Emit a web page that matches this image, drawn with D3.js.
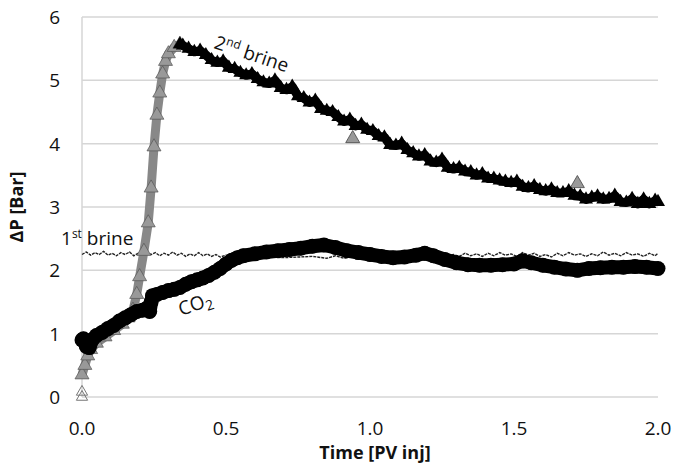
<!DOCTYPE html>
<html>
<head>
<meta charset="utf-8">
<script src="https://cdn.jsdelivr.net/npm/d3@7"></script>
<style>
  body { margin: 0; background: #fff; }
  svg text { font-family: "Open Sans", sans-serif; fill: #111; }
</style>
</head>
<body>
<div id="chart"></div>
<script>
// 坐标轴刻度
const xTicks = [0, 0.5, 1.0, 1.5, 2.0];
const yTicks = [0, 1, 2, 3, 4, 5, 6];

// 第一段盐水 (细虚线, 锯齿状)
const brine1 = [
  [0, 2.25], [0.015, 2.29], [0.03, 2.24], [0.045, 2.28], [0.06, 2.25], [0.075, 2.3],
  [0.09, 2.24], [0.105, 2.27], [0.12, 2.23], [0.135, 2.28], [0.15, 2.25], [0.165, 2.29],
  [0.18, 2.23], [0.195, 2.27], [0.21, 2.24], [0.225, 2.29], [0.24, 2.25], [0.255, 2.28],
  [0.27, 2.23], [0.285, 2.27], [0.3, 2.24], [0.315, 2.29], [0.33, 2.24], [0.345, 2.27],
  [0.36, 2.22], [0.375, 2.26], [0.39, 2.23], [0.405, 2.28], [0.42, 2.23], [0.435, 2.26],
  [0.45, 2.22], [0.465, 2.25], [0.48, 2.21], [0.5, 2.24], [0.55, 2.21], [0.6, 2.23],
  [0.7, 2.2], [0.8, 2.22], [0.85, 2.19], [0.88, 2.23], [0.91, 2.19], [0.94, 2.22],
  [0.97, 2.2], [1.0, 2.23], [1.05, 2.2], [1.1, 2.23], [1.15, 2.21], [1.2, 2.24],
  [1.25, 2.22], [1.29, 2.25], [1.31, 2.22], [1.33, 2.27], [1.35, 2.23], [1.37, 2.26],
  [1.39, 2.22], [1.41, 2.27], [1.43, 2.23], [1.45, 2.28], [1.47, 2.24], [1.49, 2.26],
  [1.51, 2.22], [1.53, 2.28], [1.55, 2.24], [1.57, 2.27], [1.59, 2.22], [1.61, 2.25],
  [1.63, 2.21], [1.65, 2.27], [1.67, 2.23], [1.69, 2.28], [1.71, 2.24], [1.73, 2.26],
  [1.75, 2.22], [1.77, 2.26], [1.79, 2.23], [1.81, 2.29], [1.83, 2.24], [1.85, 2.27],
  [1.87, 2.23], [1.89, 2.28], [1.91, 2.24], [1.93, 2.26], [1.95, 2.22], [1.97, 2.27],
  [1.99, 2.23], [2.0, 2.27]
];

// 第二段盐水 上升段 (灰色三角)
const brine2Rise = [
  [0.0, 0.35], [0.01, 0.5], [0.02, 0.65], [0.03, 0.75], [0.05, 0.85], [0.08, 0.95],
  [0.11, 1.05], [0.14, 1.15], [0.16, 1.25], [0.177, 1.37], [0.19, 1.62], [0.2, 1.9],
  [0.215, 2.3], [0.23, 2.75], [0.24, 3.3], [0.25, 3.95], [0.26, 4.45], [0.27, 4.8],
  [0.28, 5.1], [0.29, 5.3], [0.30, 5.42], [0.32, 5.52], [0.34, 5.57]
];

// 第二段盐水 下降段 (黑色三角)
const brine2Fall = [
  [0.34, 5.57], [0.35, 5.55], [0.37, 5.5], [0.39, 5.45], [0.41, 5.47], [0.43, 5.4],
  [0.45, 5.32], [0.47, 5.28], [0.49, 5.3], [0.51, 5.2], [0.53, 5.18], [0.55, 5.12],
  [0.57, 5.08], [0.59, 5.1], [0.61, 5.02], [0.63, 4.97], [0.65, 4.95], [0.67, 5.0],
  [0.69, 4.88], [0.71, 4.85], [0.73, 4.9], [0.75, 4.75], [0.77, 4.72], [0.79, 4.65],
  [0.81, 4.68], [0.83, 4.55], [0.85, 4.52], [0.87, 4.5], [0.89, 4.42], [0.91, 4.35],
  [0.93, 4.38], [0.95, 4.28], [0.97, 4.3], [0.99, 4.22], [1.01, 4.2], [1.03, 4.12],
  [1.05, 4.1], [1.07, 3.98], [1.09, 3.97], [1.11, 4.0], [1.13, 3.9], [1.15, 3.85],
  [1.17, 3.8], [1.19, 3.82], [1.21, 3.72], [1.23, 3.7], [1.25, 3.75], [1.27, 3.62],
  [1.29, 3.6], [1.31, 3.62], [1.33, 3.56], [1.35, 3.55], [1.37, 3.5], [1.39, 3.52],
  [1.41, 3.45], [1.43, 3.45], [1.45, 3.42], [1.47, 3.4], [1.49, 3.38], [1.51, 3.4],
  [1.53, 3.32], [1.55, 3.3], [1.57, 3.33], [1.59, 3.27], [1.61, 3.25], [1.63, 3.28],
  [1.65, 3.22], [1.67, 3.22], [1.69, 3.25], [1.71, 3.18], [1.73, 3.17], [1.75, 3.12],
  [1.77, 3.15], [1.79, 3.17], [1.81, 3.12], [1.83, 3.13], [1.85, 3.18], [1.87, 3.08],
  [1.89, 3.07], [1.91, 3.13], [1.93, 3.05], [1.95, 3.12], [1.97, 3.05], [1.99, 3.1],
  [2.0, 3.08]
];

// 离群的灰色三角点
const brine2Stray = [[0.94, 4.08], [1.72, 3.37]];
// t=0 处空心三角
const brine2Open = [[0.0, 0.0], [0.0, 0.08]];

// CO2 (黑色圆点)
const co2 = [
  [0.0, 0.9], [0.005, 0.92], [0.015, 0.8], [0.025, 0.78], [0.035, 0.9], [0.05, 0.97],
  [0.07, 1.02], [0.09, 1.08], [0.11, 1.13], [0.13, 1.2], [0.15, 1.25], [0.17, 1.3],
  [0.19, 1.35], [0.21, 1.37], [0.225, 1.4], [0.235, 1.35], [0.24, 1.5], [0.245, 1.6],
  [0.26, 1.62], [0.28, 1.65], [0.30, 1.68], [0.32, 1.7], [0.34, 1.73], [0.36, 1.78],
  [0.38, 1.82], [0.40, 1.85], [0.42, 1.88], [0.44, 1.92], [0.46, 1.97], [0.48, 2.03],
  [0.50, 2.1], [0.52, 2.16], [0.54, 2.2], [0.56, 2.23], [0.60, 2.26], [0.64, 2.29],
  [0.68, 2.31], [0.72, 2.33], [0.76, 2.35], [0.80, 2.38], [0.84, 2.4], [0.88, 2.36],
  [0.92, 2.31], [0.96, 2.28], [1.0, 2.25], [1.04, 2.22], [1.08, 2.2], [1.12, 2.21],
  [1.16, 2.24], [1.19, 2.27], [1.22, 2.23], [1.26, 2.17], [1.30, 2.12], [1.34, 2.09],
  [1.38, 2.08], [1.42, 2.08], [1.46, 2.09], [1.50, 2.1], [1.53, 2.15], [1.56, 2.12],
  [1.60, 2.08], [1.64, 2.05], [1.68, 2.02], [1.72, 2.0], [1.76, 2.03], [1.80, 2.04],
  [1.84, 2.05], [1.88, 2.05], [1.92, 2.06], [1.96, 2.05], [2.0, 2.03]
];

// 画布尺寸
const W = 688, H = 466;
const margin = { top: 17, right: 30, bottom: 69, left: 82 };
const width = W - margin.left - margin.right;
const height = H - margin.top - margin.bottom;

const svg = d3.select('#chart').append('svg')
  .attr('width', W).attr('height', H);
const g = svg.append('g')
  .attr('transform', `translate(${margin.left},${margin.top})`);

const x = d3.scaleLinear().domain([0, 2]).range([0, width]);
const y = d3.scaleLinear().domain([0, 6]).range([height, 0]);

// 网格线
g.selectAll('.grid').data(yTicks).enter().append('line')
  .attr('x1', 0).attr('x2', width)
  .attr('y1', d => y(d)).attr('y2', d => y(d))
  .style('stroke', '#d6d6d6').style('stroke-width', 1.5);

// 左侧竖轴线
g.append('line')
  .attr('x1', 0).attr('x2', 0).attr('y1', 0).attr('y2', height)
  .style('stroke', '#d6d6d6').style('stroke-width', 1.5);

// 刻度标签
g.selectAll('.ytick').data(yTicks).enter().append('text')
  .attr('x', -22).attr('y', d => y(d) + 7)
  .attr('text-anchor', 'end').style('font-size', '19px')
  .text(d => d);

g.selectAll('.xtick').data(xTicks).enter().append('text')
  .attr('x', d => x(d)).attr('y', height + 38)
  .attr('text-anchor', 'middle').style('font-size', '19px')
  .text(d => d.toFixed(1));

// 轴标题
svg.append('text')
  .attr('x', 375).attr('y', 459)
  .attr('text-anchor', 'middle')
  .style('font-size', '18px').style('font-weight', 'bold')
  .text('Time [PV inj]');

svg.append('text')
  .attr('transform', 'translate(23,207) rotate(-90)')
  .attr('text-anchor', 'middle')
  .style('font-size', '18px').style('font-weight', 'bold')
  .text('ΔP [Bar]');

const line = d3.line().x(d => x(d[0])).y(d => y(d[1]));
const tri = d3.symbol().type(d3.symbolTriangle).size(85);
const triSmall = d3.symbol().type(d3.symbolTriangle).size(55);

// 第一段盐水
g.append('path').datum(brine1)
  .attr('d', line)
  .style('fill', 'none').style('stroke', '#222')
  .style('stroke-width', 1.4).style('stroke-dasharray', '3,1');

// 第二段盐水 上升段
g.append('path').datum(brine2Rise)
  .attr('d', line)
  .style('fill', 'none').style('stroke', '#888')
  .style('stroke-width', 9).style('stroke-linejoin', 'round');
g.selectAll('.riseTri').data(brine2Rise).enter().append('path')
  .attr('d', tri)
  .attr('transform', d => `translate(${x(d[0])},${y(d[1])})`)
  .style('fill', '#999').style('stroke', '#555').style('stroke-width', 0.7);

// 空心 / 离群三角
g.selectAll('.openTri').data(brine2Open).enter().append('path')
  .attr('d', triSmall)
  .attr('transform', d => `translate(${x(d[0])},${y(d[1])})`)
  .style('fill', 'none').style('stroke', '#777').style('stroke-width', 1);
g.selectAll('.strayTri').data(brine2Stray).enter().append('path')
  .attr('d', tri)
  .attr('transform', d => `translate(${x(d[0])},${y(d[1])})`)
  .style('fill', '#999').style('stroke', '#444').style('stroke-width', 0.8);

// CO2
g.append('path').datum(co2)
  .attr('d', line)
  .style('fill', 'none').style('stroke', '#000')
  .style('stroke-width', 14).style('stroke-linejoin', 'round');
g.selectAll('.co2Dot').data(co2).enter().append('circle')
  .attr('cx', d => x(d[0])).attr('cy', d => y(d[1])).attr('r', 7.5)
  .style('fill', '#000');

// 第二段盐水 下降段
g.append('path').datum(brine2Fall)
  .attr('d', line)
  .style('fill', 'none').style('stroke', '#000')
  .style('stroke-width', 9).style('stroke-linejoin', 'round');
g.selectAll('.fallTri').data(brine2Fall).enter().append('path')
  .attr('d', tri)
  .attr('transform', d => `translate(${x(d[0])},${y(d[1])})`)
  .style('fill', '#000');

// 曲线标注
const lab2 = svg.append('text')
  .attr('transform', 'translate(213,48) rotate(18.5)')
  .style('font-size', '19px');
lab2.append('tspan').text('2');
lab2.append('tspan').attr('dy', -7).style('font-size', '12px').text('nd');
lab2.append('tspan').attr('dy', 7).text(' brine');

const lab1 = svg.append('text')
  .attr('x', 61).attr('y', 245)
  .style('font-size', '19px');
lab1.append('tspan').text('1');
lab1.append('tspan').attr('dy', -7).style('font-size', '12px').text('st');
lab1.append('tspan').attr('dy', 7).text(' brine');

const lab3 = svg.append('text')
  .attr('transform', 'translate(181,316) rotate(-19)')
  .style('font-size', '19px');
lab3.append('tspan').text('CO');
lab3.append('tspan').attr('dy', 4).style('font-size', '14px').text('2');
</script>
</body>
</html>
